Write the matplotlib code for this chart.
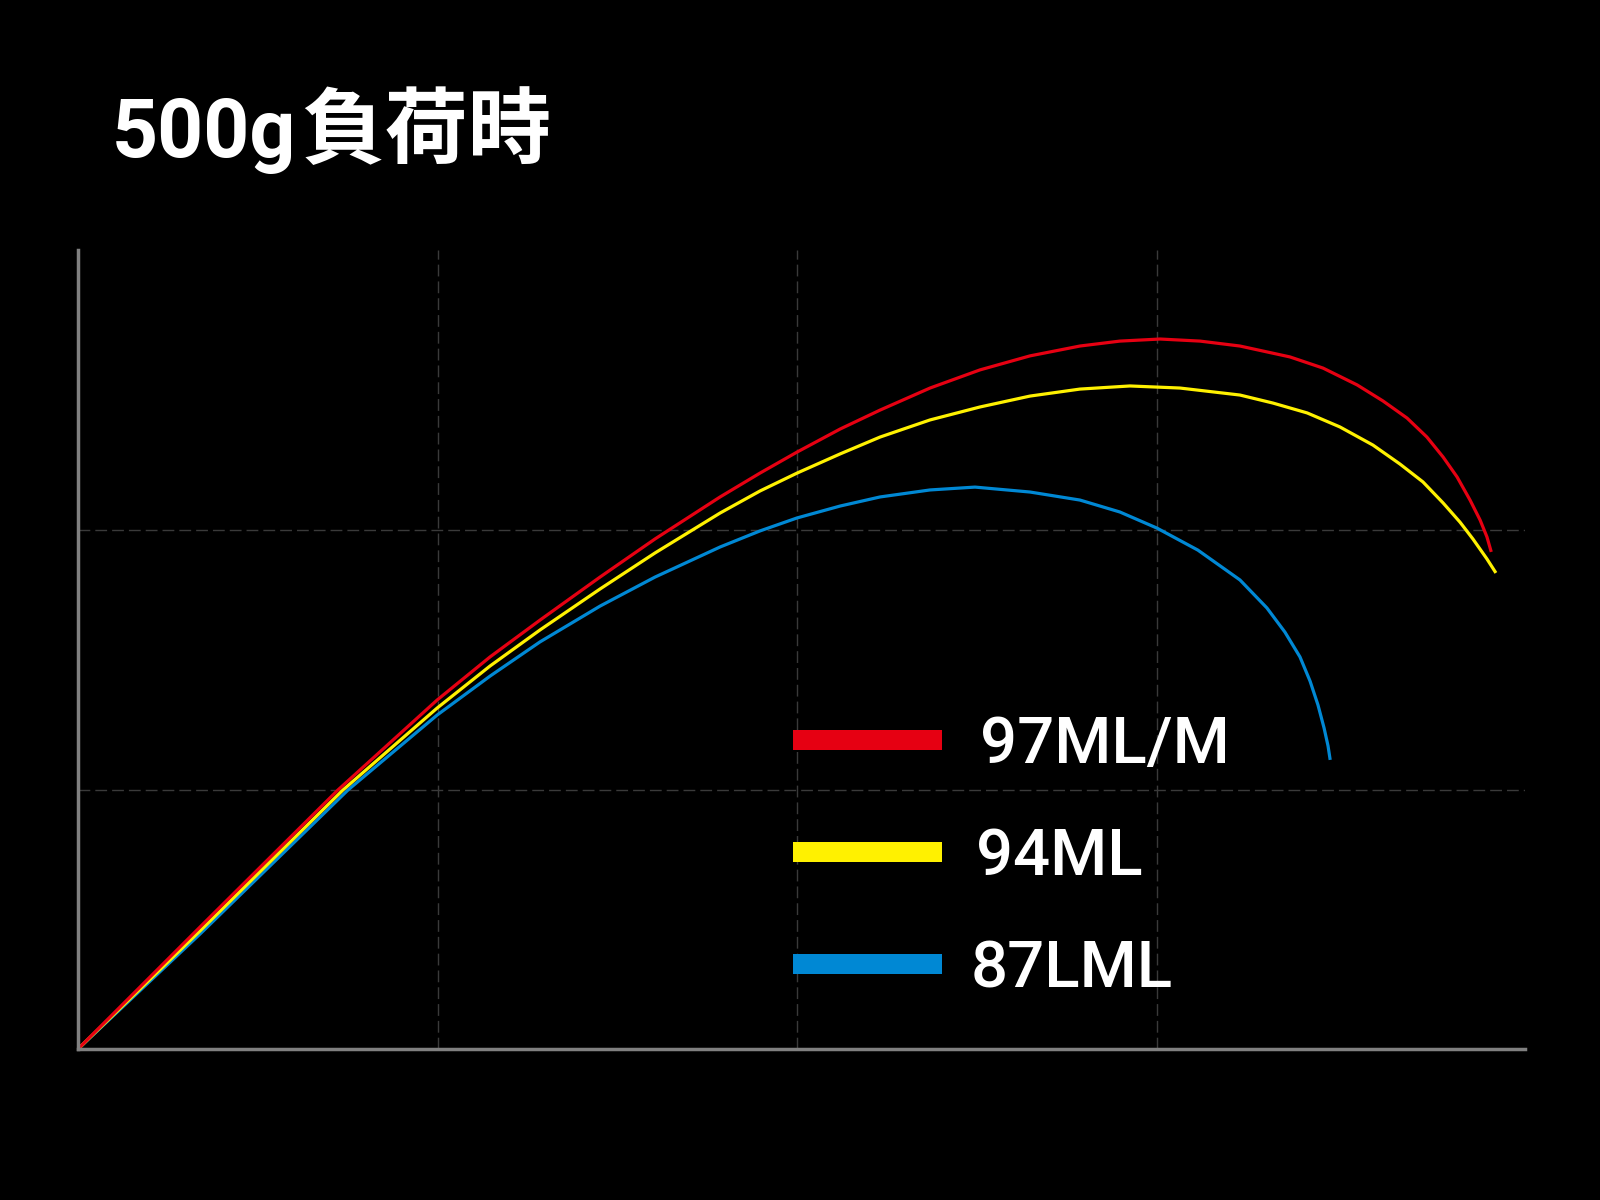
"""500g load bend curves."""
import matplotlib
matplotlib.use('Agg')
import matplotlib.pyplot as plt
from matplotlib.patches import Rectangle

# Data (in grid units)
red_x = [0, 0.339, 0.723, 0.999, 1.146, 1.285, 1.452, 1.605, 1.786, 1.897,
         2.000, 2.120, 2.231, 2.370, 2.509, 2.648, 2.787, 2.898, 3.010,
         3.121, 3.232, 3.371, 3.463, 3.558, 3.630, 3.697, 3.752, 3.797,
         3.836, 3.872, 3.900, 3.919, 3.931]
red_y = [0, 0.470, 0.999, 1.346, 1.512, 1.654, 1.820, 1.967, 2.129, 2.221,
         2.302, 2.391, 2.464, 2.549, 2.619, 2.673, 2.711, 2.730, 2.738,
         2.730, 2.711, 2.669, 2.626, 2.561, 2.499, 2.433, 2.360, 2.283,
         2.206, 2.117, 2.040, 1.975, 1.917]

yellow_x = [0, 0.339, 0.737, 0.999, 1.146, 1.285, 1.452, 1.605, 1.786,
            1.897, 2.000, 2.120, 2.231, 2.370, 2.509, 2.648, 2.787, 2.926,
            3.065, 3.232, 3.324, 3.419, 3.510, 3.602, 3.677, 3.741, 3.797,
            3.844, 3.880, 3.919, 3.944]
yellow_y = [0, 0.455, 0.999, 1.315, 1.477, 1.616, 1.774, 1.913, 2.067,
            2.152, 2.221, 2.295, 2.360, 2.426, 2.476, 2.518, 2.545, 2.557,
            2.549, 2.522, 2.491, 2.453, 2.399, 2.329, 2.256, 2.187, 2.106,
            2.032, 1.967, 1.890, 1.836]

blue_x = [0, 0.339, 0.751, 0.999, 1.146, 1.285, 1.452, 1.605, 1.786, 1.897,
          2.000, 2.120, 2.231, 2.370, 2.495, 2.648, 2.787, 2.898, 3.001,
          3.115, 3.232, 3.307, 3.357, 3.399, 3.427, 3.449, 3.466, 3.477,
          3.483]
blue_y = [0, 0.443, 0.999, 1.288, 1.438, 1.570, 1.708, 1.820, 1.936, 1.998,
          2.048, 2.094, 2.129, 2.156, 2.167, 2.148, 2.117, 2.071, 2.009,
          1.924, 1.809, 1.701, 1.608, 1.512, 1.419, 1.327, 1.238, 1.169,
          1.115]

labels = ['97ML/M', '94ML', '87LML']
colors = ['#e60012', '#fff100', '#0088d4']
title_num = '500g'
title_jp = '負荷時'

fig = plt.figure(figsize=(16, 12), dpi=100, facecolor='black')
ax = fig.add_axes([0.04875, 0.1258, 0.9044, 0.6658])
ax.set_facecolor('black')

series = [(red_x, red_y), (yellow_x, yellow_y), (blue_x, blue_y)]
# blue first so that red sits on top
for (x, y), c, z in zip(series[::-1], colors[::-1], [2, 3, 4]):
    ax.plot(x, y, color=c, lw=2.3, zorder=z, solid_joinstyle='round',
            solid_capstyle='butt')

ax.set_xlim(0, 4.025)
ax.set_ylim(0, 3.081)
ax.set_xticks([1, 2, 3])
ax.set_yticks([1, 2])
ax.tick_params(length=0, labelbottom=False, labelleft=False)
ax.grid(True, color='#3a3a3a', lw=1.0, dashes=(8.5, 3.6))

for s in ['top', 'right']:
    ax.spines[s].set_visible(False)
for s in ['left', 'bottom']:
    ax.spines[s].set_color('#808080')
    ax.spines[s].set_linewidth(2.5)
    ax.spines[s].set_zorder(5)

W, H = 1600., 1200.

# title: latin part + japanese part
fig.text(112 / W, 1 - 157 / H, title_num, color='white', fontsize=58,
         fontweight='bold', family=['Roboto', 'DejaVu Sans'],
         ha='left', va='baseline')
fig.text(301 / W, 1 - 157 / H, title_jp, color='white', fontsize=60,
         fontweight='bold', family=['Noto Sans CJK JP', 'DejaVu Sans'],
         ha='left', va='baseline')

# legend, laid out by hand
rows_y = [740, 852, 964]
text_x = [980, 976, 971]
for yc, tx, lab, c in zip(rows_y, text_x, labels, colors):
    fig.patches.append(Rectangle((793 / W, 1 - (yc + 10) / H), 149 / W,
                                 20 / H, transform=fig.transFigure,
                                 facecolor=c, edgecolor='none'))
    fig.text(tx / W, 1 - (yc + 23) / H, lab, color='white', fontsize=47,
             fontweight='medium', family=['Roboto', 'DejaVu Sans'],
             ha='left', va='baseline')

fig.savefig('out.png', dpi=100, facecolor='black')
